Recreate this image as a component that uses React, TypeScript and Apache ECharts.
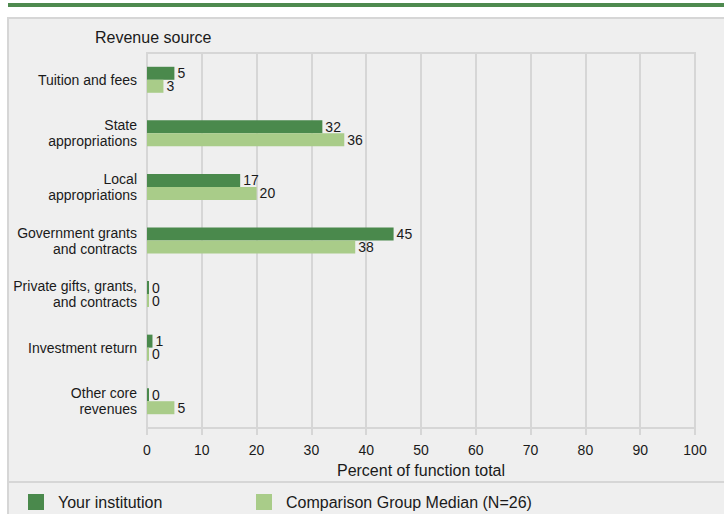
import React, { useEffect, useRef } from "react";
import * as echarts from "echarts";

const categories = [
  "Tuition and fees",
  "State\nappropriations",
  "Local\nappropriations",
  "Government grants\nand contracts",
  "Private gifts, grants,\nand contracts",
  "Investment return",
  "Other core\nrevenues",
];
const yourInstitution = [5, 32, 17, 45, 0, 1, 0];
const comparisonMedian = [3, 36, 20, 38, 0, 0, 5];
const seriesNames = ["Your institution", "Comparison Group Median (N=26)"];

const FONT = "'Liberation Sans', Arial, sans-serif";
const TEXT = "#1a1a1a";
const GRIDC = "#d6d6d6";

export default function App() {
  const ref = useRef<HTMLDivElement>(null);
  useEffect(() => {
    document.body.style.margin = "0";
    const chart = echarts.init(ref.current!, null, { renderer: "svg" });
    const label = {
      show: true,
      position: "right",
      distance: 3,
      lineHeight: 12,
      color: TEXT,
      fontSize: 14,
      fontFamily: FONT,
    };
    chart.setOption({
      animation: false,
      backgroundColor: "#ffffff",
      textStyle: { fontFamily: FONT },
      graphic: [
        { type: "rect", z: -10, shape: { x: 8, y: 3, width: 716, height: 4 }, style: { fill: "#4e8a4f" } },
        {
          type: "rect",
          z: -10,
          shape: { x: 8, y: 18, width: 720, height: 500 },
          style: { fill: "#efefef", stroke: GRIDC, lineWidth: 2 },
        },
        {
          type: "line",
          z: -9,
          shape: { x1: 8, y1: 482, x2: 724, y2: 482 },
          style: { stroke: GRIDC, lineWidth: 2 },
        },
        {
          type: "text",
          left: 95,
          top: 29,
          style: { text: "Revenue source", fill: TEXT, fontSize: 16, fontFamily: FONT },
        },
      ],
      legend: [
        {
          data: [seriesNames[0]],
          left: 28,
          top: 494,
          padding: 0,
          icon: "rect",
          itemWidth: 16,
          itemHeight: 16,
          textStyle: { color: TEXT, fontSize: 16, fontFamily: FONT, padding: [0, 0, 0, 9] },
        },
        {
          data: [seriesNames[1]],
          left: 256,
          top: 494,
          padding: 0,
          icon: "rect",
          itemWidth: 16,
          itemHeight: 16,
          textStyle: { color: TEXT, fontSize: 16, fontFamily: FONT, padding: [0, 0, 0, 9] },
        },
      ],
      grid: {
        left: 147,
        right: 29,
        top: 53,
        bottom: 86,
        show: true,
        borderColor: GRIDC,
        borderWidth: 2,
        backgroundColor: "transparent",
      },
      xAxis: {
        type: "value",
        min: 0,
        max: 100,
        interval: 10,
        name: "Percent of function total",
        nameLocation: "middle",
        nameGap: 34,
        nameTextStyle: { color: TEXT, fontSize: 16, fontFamily: FONT },
        axisLine: { show: true, lineStyle: { color: GRIDC, width: 2 } },
        axisTick: { show: true, length: 7, lineStyle: { color: GRIDC, width: 2 } },
        axisLabel: { color: TEXT, fontSize: 14, fontFamily: FONT, margin: 15 },
        splitLine: { show: true, lineStyle: { color: GRIDC, width: 2 } },
      },
      yAxis: {
        type: "category",
        data: categories,
        inverse: true,
        axisLine: { show: true, lineStyle: { color: GRIDC, width: 2 } },
        axisTick: { show: false },
        axisLabel: { color: TEXT, fontSize: 14, fontFamily: FONT, margin: 10, lineHeight: 16, align: "right" },
      },
      series: [
        {
          name: seriesNames[0],
          type: "bar",
          data: yourInstitution,
          barWidth: 13,
          barGap: "0%",
          barMinHeight: 2,
          itemStyle: { color: "#4a894c" },
          label,
        },
        {
          name: seriesNames[1],
          type: "bar",
          data: comparisonMedian,
          barWidth: 13,
          barGap: "0%",
          barMinHeight: 2,
          itemStyle: { color: "#a9cc89" },
          label,
        },
      ],
    });
    return () => chart.dispose();
  }, []);
  return <div ref={ref} style={{ width: 724, height: 514 }} />;
}
